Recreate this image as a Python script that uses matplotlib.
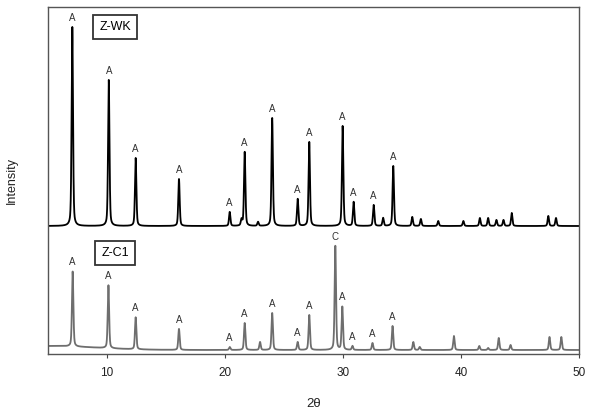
import numpy as np
import matplotlib
matplotlib.use("Agg")
import matplotlib.pyplot as plt

plt.rcParams['font.family'] = ['Liberation Sans', 'DejaVu Sans']

# Z-WK (top) peaks: position (2theta), height above baseline
wk_pos = [7.06, 10.15, 12.43, 16.1, 20.4, 21.4, 21.67, 22.8, 24.0, 26.16, 27.14, 29.97,
          30.9, 32.6, 33.4, 34.26, 35.87, 36.6, 38.07, 40.2, 41.6, 42.3, 43.0, 43.6,
          44.3, 47.4, 48.05]
wk_h = [199, 146, 68, 47, 14, 6, 74, 4, 108, 27, 84, 100,
        24, 21, 8, 60, 9, 7, 5, 5, 8, 8, 6, 6,
        13, 10, 8]
wk_base = 128

# Z-C1 (bottom) peaks
c1_pos = [7.09, 10.12, 12.43, 16.1, 20.4, 21.67, 22.97, 24.0, 26.16, 27.14, 29.35, 29.94,
          30.8, 32.5, 34.2, 35.96, 36.5, 39.4, 41.55, 42.3, 43.2, 44.2, 47.5, 48.5]
c1_h = [75, 63, 32, 21, 3, 27, 8, 37, 8, 35, 104, 43,
        4, 7, 24, 8, 3, 14, 4, 2, 12, 5, 13, 13]
c1_base = 4
# broad amorphous background of Z-C1 at low angle: center, height, width
c1_bg = [(5.0, 4.0, 4.0)]

wk_labels = [(7.06, "A"), (10.15, "A"), (12.43, "A"), (16.1, "A"), (20.4, "A"), (21.67, "A"),
             (24.0, "A"), (26.16, "A"), (27.14, "A"), (29.97, "A"), (30.9, "A"), (32.6, "A"),
             (34.26, "A")]
c1_labels = [(7.09, "A"), (10.12, "A"), (12.43, "A"), (16.1, "A"), (20.4, "A"), (21.67, "A"),
             (24.0, "A"), (26.16, "A"), (27.14, "A"), (29.35, "C"), (29.94, "A"), (30.8, "A"),
             (32.5, "A"), (34.2, "A")]

x_ticks = [10, 20, 30, 40, 50]

FWHM = 0.14


def profile(x, pos, h, base, bg=()):
    y = np.full_like(x, float(base))
    g = FWHM / 2.3548
    for p, a in zip(pos, h):
        gau = np.exp(-0.5 * ((x - p) / g) ** 2)
        lor = 1.0 / (1.0 + ((x - p) / (FWHM / 2)) ** 2)
        y += a * (0.6 * gau + 0.4 * lor)
    for c, a, w in bg:
        y += a * np.exp(-0.5 * ((x - c) / w) ** 2)
    return y


x = np.arange(5.0, 50.0001, 0.005)
y_wk = profile(x, wk_pos, wk_h, wk_base)
y_c1 = profile(x, c1_pos, c1_h, c1_base, c1_bg)

fig = plt.figure(figsize=(5.91, 4.13), dpi=100)
ax = fig.add_axes([48 / 591, 59 / 413, 531 / 591, 347 / 413])
ax.plot(x, y_wk, color="black", lw=1.3)
ax.plot(x, y_c1, color="#6e6e6e", lw=1.3)

ax.set_xlim(5, 50)
ax.set_ylim(0, 347)
ax.set_xticks(x_ticks)
ax.set_yticks([])
ax.tick_params(axis="x", direction="out", length=3, labelsize=8.5, pad=6, color="#444444",
               labelcolor="#222222")
for s in ax.spines.values():
    s.set_color("#555555")
    s.set_linewidth(1.0)

for p, t in wk_labels:
    yy = profile(np.array([p]), wk_pos, wk_h, wk_base)[0]
    ax.annotate(t, (p, yy), xytext=(0, 3), textcoords="offset points",
                ha="center", va="bottom", fontsize=7, color="#333333")
for p, t in c1_labels:
    yy = profile(np.array([p]), c1_pos, c1_h, c1_base, c1_bg)[0]
    ax.annotate(t, (p, yy), xytext=(0, 3), textcoords="offset points",
                ha="center", va="bottom", fontsize=7, color="#333333")

box = dict(boxstyle="square,pad=0.5", fc="white", ec="#333333", lw=1.3)
ax.text(10.7, 327, "Z-WK", ha="center", va="center", fontsize=9, bbox=box)
ax.text(10.7, 101, "Z-C1", ha="center", va="center", fontsize=9, bbox=box)

ax.set_xlabel("2θ", fontsize=9.5, labelpad=14, color="#222222")
ax.set_ylabel("Intensity", fontsize=9, labelpad=22, color="#222222")

fig.savefig("out.png", dpi=100)
